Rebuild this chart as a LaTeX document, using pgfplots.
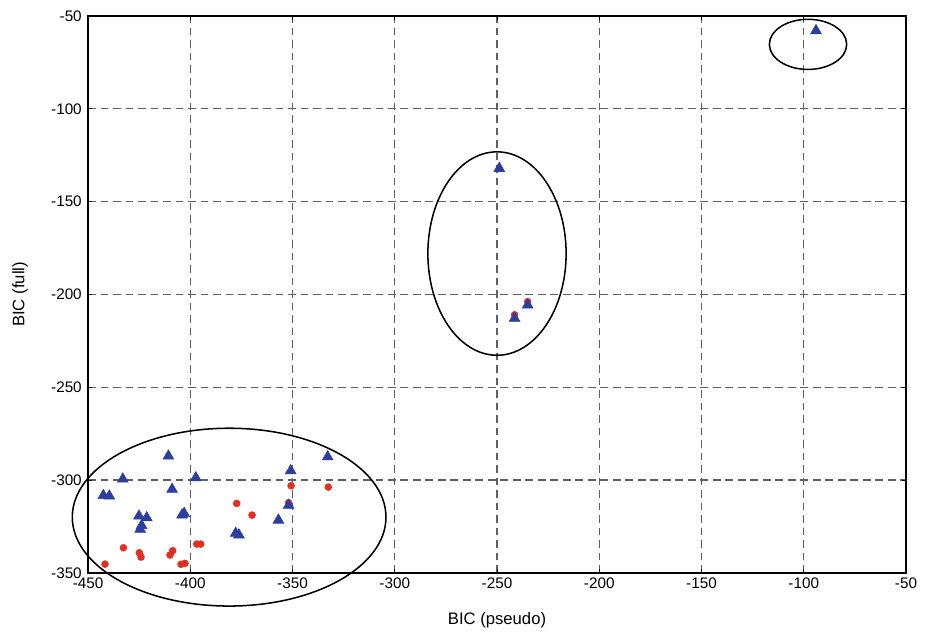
\documentclass[border=0pt]{standalone}
\usepackage{pgfplots}
\pgfplotsset{compat=1.18}
\usepackage{fontspec}
\setmainfont{Liberation Sans}
\definecolor{triblue}{RGB}{44,62,160}
\definecolor{dotred}{RGB}{226,48,32}
\begin{document}
\begin{tikzpicture}
\useasboundingbox (-63.4pt,-42.5pt) rectangle (602.7pt,412.5pt);
\begin{axis}[
  scale only axis,
  width=589pt, height=401pt,
  xmin=-450, xmax=-50, ymin=-350, ymax=-50,
  xtick={-450,-400,...,-50},
  ytick={-350,-300,...,-50},
  /pgf/number format/assume math mode=true,
  tick label style={font=\fontsize{11}{13}\selectfont},
  xticklabel style={yshift=0pt},
  yticklabel style={xshift=-1pt},
  label style={font=\fontsize{12}{14}\selectfont},
  xlabel={BIC (pseudo)},
  ylabel={BIC (full)},
  xlabel style={at={(axis description cs:0.5,-0.085)},anchor=center},
  ylabel style={at={(axis description cs:-0.083,0.5)},anchor=center},
  grid=major,
  major grid style={dash pattern=on 5.5pt off 3.5pt,gray!75!black,line width=0.8pt},
  axis line style={line width=1.2pt},
  tick align=inside,
  major tick length=3pt,
  tick style={black,line width=0.6pt},
  clip=false,
]
\addplot[only marks, mark=*, mark size=2.5pt, color=dotred, mark options={draw=dotred,fill=dotred}] coordinates {
(-350.7,-303.1) (-332.5,-303.8) (-377.3,-312.6) (-351.9,-312.2) (-369.8,-318.9)
(-432.7,-336.5) (-424.9,-339.2) (-424.1,-341.5) (-408.6,-338.1) (-409.9,-340.4)
(-396.8,-334.5) (-394.9,-334.5) (-441.7,-345.3) (-404.5,-345.4) (-402.6,-344.9)
(-241.4,-211.0) (-235.0,-203.9)
};
\addplot[only marks, mark=triangle*, mark size=4.5pt, color=triblue, mark options={draw=triblue,fill=triblue}] coordinates {
(-410.7,-287.1) (-433.0,-299.5) (-442.5,-308.3) (-439.6,-308.6) (-408.9,-305.0)
(-397.3,-298.8) (-425.1,-319.4) (-421.3,-320.3) (-424.5,-326.5) (-423.8,-324.5)
(-404.0,-318.8) (-403.0,-318.0) (-377.8,-328.7) (-376.2,-329.6) (-356.9,-321.6)
(-351.9,-313.6) (-350.9,-295.0) (-332.8,-287.5)
(-248.9,-132.1) (-241.4,-212.9) (-235.0,-205.7)
(-94.0,-57.9)
};
\draw[line width=1.1pt] (axis cs:-381,-320) ellipse [x radius=76.7, y radius=47.9];
\draw[line width=1.1pt] (axis cs:-250,-178) ellipse [x radius=33.8, y radius=54.8];
\draw[line width=1.1pt] (axis cs:-97.9,-65.3) ellipse [x radius=18.9, y radius=13.5];
\end{axis}
\end{tikzpicture}
\end{document}
